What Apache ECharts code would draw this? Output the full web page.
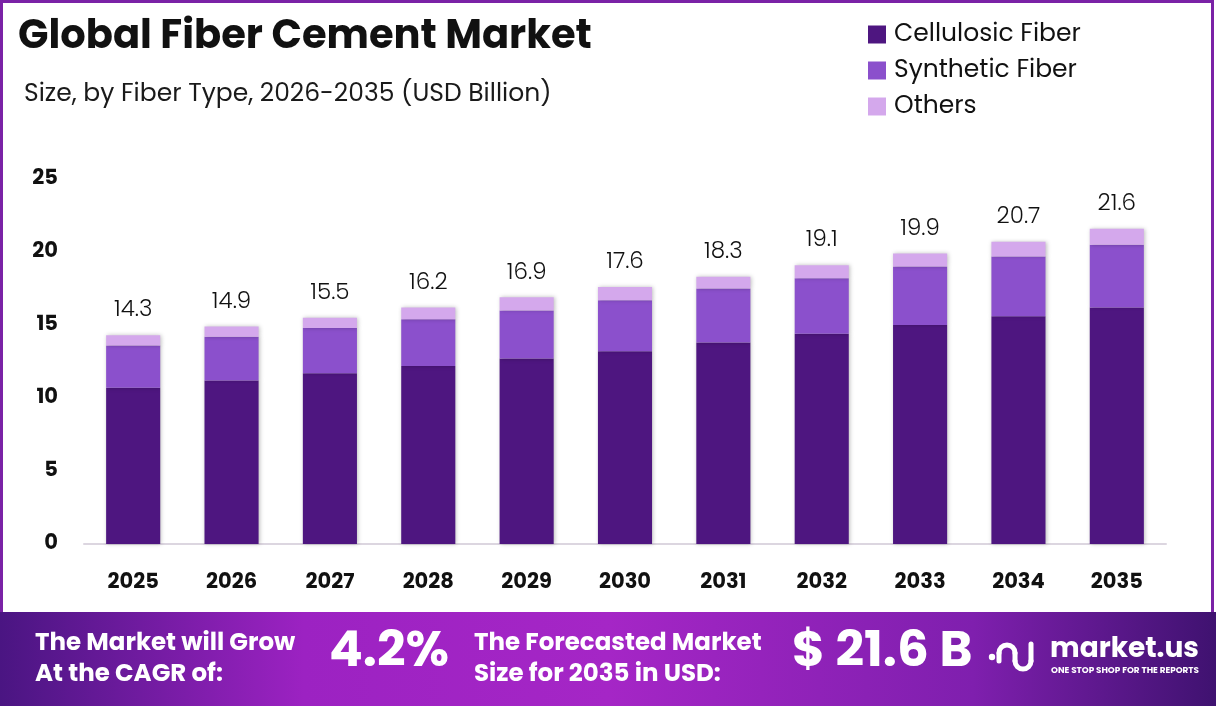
<!DOCTYPE html>
<html>
<head>
<meta charset="utf-8">
<script src="https://cdn.jsdelivr.net/npm/echarts@6/dist/echarts.min.js"></script>
<style>
  html, body { margin: 0; padding: 0; background: #fff; }
  #chart { width: 1216px; height: 706px; }
</style>
</head>
<body>
<div id="chart"></div>
<script>
// data
let years = ['2025', '2026', '2027', '2028', '2029', '2030', '2031', '2032', '2033', '2034', '2035'];
let cellulosic = [10.7, 11.2, 11.7, 12.2, 12.7, 13.2, 13.8, 14.4, 15.0, 15.6, 16.2];
let synthetic = [2.9, 3.0, 3.1, 3.2, 3.3, 3.5, 3.7, 3.8, 4.0, 4.1, 4.3];
let others = [0.7, 0.7, 0.7, 0.8, 0.9, 0.9, 0.8, 0.9, 0.9, 1.0, 1.1];
let totals = ['14.3', '14.9', '15.5', '16.2', '16.9', '17.6', '18.3', '19.1', '19.9', '20.7', '21.6'];
let yTicks = [0, 5, 10, 15, 20, 25];

let font = 'Poppins, Inter, "Noto Sans", sans-serif';
let colors = ['#4e1680', '#8b50cc', '#d4a8ec'];

let chart = echarts.init(document.getElementById('chart'));

// shared bar style
function barSeries(name, data, color, withLabel) {
    let s = {
        name: name,
        type: 'bar',
        stack: 'total',
        data: data,
        barWidth: '55%',
        itemStyle: {
            color: color,
            shadowColor: 'rgba(0,0,0,0.25)',
            shadowBlur: 4,
            shadowOffsetX: 1,
            shadowOffsetY: 0
        }
    };
    if (withLabel) {
        s.label = {
            show: true,
            position: 'top',
            distance: 13,
            fontFamily: font,
            fontSize: 23,
            fontWeight: 300,
            color: '#111',
            formatter: function(p) { return totals[p.dataIndex]; }
        };
    }
    return s;
}

// logo pieces need their own z so they sit above the banner
function logoPart(obj) {
    obj.z = 12;
    return obj;
}

let option = {
    animation: false,
    backgroundColor: '#fff',
    textStyle: { fontFamily: font },
    title: [{
        text: 'Global Fiber Cement Market',
        left: 13, top: 13,
        textStyle: { fontFamily: font, fontSize: 40, fontWeight: 'bold', color: '#111' }
    }, {
        text: 'Size, by Fiber Type, 2026-2035 (USD Billion)',
        left: 19, top: 77,
        textStyle: { fontFamily: font, fontSize: 25, fontWeight: 'normal', color: '#1a1a1a' }
    }],
    legend: {
        orient: 'vertical',
        left: 863, top: 17,
        itemWidth: 18, itemHeight: 18,
        itemGap: 11,
        icon: 'rect',
        textStyle: { fontFamily: font, fontSize: 25, color: '#111', padding: [0, 0, 0, 3] },
        data: ['Cellulosic Fiber', 'Synthetic Fiber', 'Others']
    },
    grid: { left: 84, right: 50, top: 179, bottom: 162 },
    xAxis: {
        type: 'category',
        data: years,
        axisLine: { lineStyle: { color: '#dcd6e0', width: 2 } },
        axisTick: { show: false },
        axisLabel: { fontFamily: font, fontSize: 21, fontWeight: 'bold', color: '#111', margin: 28 }
    },
    yAxis: {
        type: 'value',
        min: yTicks[0],
        max: yTicks[yTicks.length - 1],
        interval: 5,
        splitLine: { show: false },
        axisLine: { show: false },
        axisTick: { show: false },
        axisLabel: { fontFamily: font, fontSize: 21, fontWeight: 'bold', color: '#111', margin: 26 }
    },
    series: [
        barSeries('Cellulosic Fiber', cellulosic, colors[0], false),
        barSeries('Synthetic Fiber', synthetic, colors[1], false),
        barSeries('Others', others, colors[2], true)
    ],
    graphic: [
        // frame border
        {
            type: 'rect', z: -1,
            shape: { x: 1.5, y: 1.5, width: 1211, height: 620 },
            style: { fill: 'none', stroke: '#7a22a6', lineWidth: 3 }
        },
        // footer banner
        {
            type: 'rect', z: 10,
            shape: { x: 0, y: 612, width: 1216, height: 94 },
            style: {
                fill: new echarts.graphic.LinearGradient(0, 0, 1, 0, [
                    { offset: 0, color: '#4a1582' },
                    { offset: 0.25, color: '#9c22c2' },
                    { offset: 0.5, color: '#a526c6' },
                    { offset: 0.8, color: '#7f1fae' },
                    { offset: 1, color: '#3f1270' }
                ])
            }
        },
        {
            type: 'text', z: 11, left: 35, top: 628,
            style: { text: 'The Market will Grow\nAt the CAGR of:', fill: '#fff', font: 'bold 24.5px ' + font, lineHeight: 31 }
        },
        {
            type: 'text', z: 11, left: 329, top: 628,
            style: { text: '4.2%', fill: '#fff', font: 'bold 50px ' + font,
                     shadowColor: 'rgba(0,0,0,0.35)', shadowBlur: 4, shadowOffsetX: 2, shadowOffsetY: 2 }
        },
        {
            type: 'text', z: 11, left: 474, top: 628,
            style: { text: 'The Forecasted Market\nSize for 2035 in USD:', fill: '#fff', font: 'bold 24.5px ' + font, lineHeight: 31 }
        },
        {
            type: 'text', z: 11, left: 792, top: 628,
            style: { text: '$ 21.6 B', fill: '#fff', font: 'bold 50px ' + font,
                     shadowColor: 'rgba(0,0,0,0.35)', shadowBlur: 4, shadowOffsetX: 2, shadowOffsetY: 2 }
        },
        // logo mark
        logoPart({ type: 'circle', shape: { cx: 992, cy: 657, r: 3.2 }, style: { fill: '#fff' } }),
        logoPart({ type: 'arc', shape: { cx: 1007, cy: 653, r: 8, startAngle: Math.PI, endAngle: 0 },
                   style: { stroke: '#fff', lineWidth: 5, fill: 'none', lineCap: 'round' } }),
        logoPart({ type: 'line', shape: { x1: 999, y1: 653, x2: 999, y2: 661 }, style: { stroke: '#fff', lineWidth: 5, lineCap: 'round' } }),
        logoPart({ type: 'line', shape: { x1: 1015, y1: 653, x2: 1015, y2: 661 }, style: { stroke: '#fff', lineWidth: 5, lineCap: 'round' } }),
        logoPart({ type: 'arc', shape: { cx: 1023, cy: 661, r: 8, startAngle: 0, endAngle: Math.PI },
                   style: { stroke: '#fff', lineWidth: 5, fill: 'none', lineCap: 'round' } }),
        logoPart({ type: 'line', shape: { x1: 1031, y1: 644, x2: 1031, y2: 661 }, style: { stroke: '#fff', lineWidth: 5, lineCap: 'round' } }),
        {
            type: 'text', z: 11, left: 1050, top: 636,
            style: { text: 'market.us', fill: '#fff', font: 'bold 28px ' + font }
        },
        {
            type: 'text', z: 11, left: 1051, top: 666,
            style: { text: 'ONE STOP SHOP FOR THE REPORTS', fill: '#fff', font: 'bold 8.8px ' + font }
        }
    ]
};

chart.setOption(option);
</script>
</body>
</html>
